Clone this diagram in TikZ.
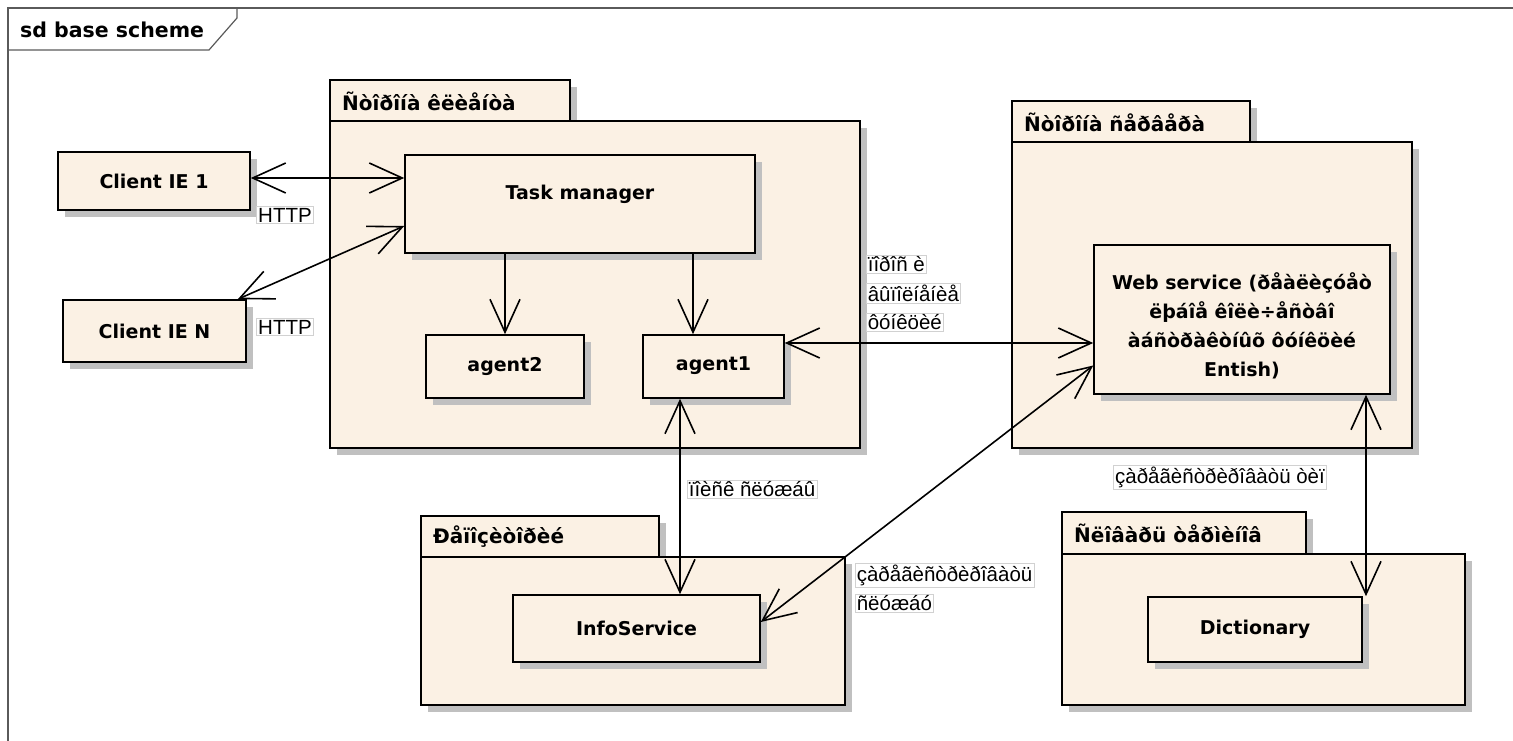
\documentclass[tikz,border=0pt]{standalone}
\usepackage{fontspec}
\setmainfont{Liberation Sans}
\newfontfamily\nodefont{DejaVu Sans}
\usetikzlibrary{arrows.meta,shadows,calc}
\definecolor{pkgfill}{RGB}{251,241,228}
\definecolor{shadowgray}{RGB}{192,192,192}
\definecolor{framegray}{RGB}{90,90,90}
\tikzset{
  ob/.tip={Straight Barb[length=33pt,width=30pt,line width=1.6pt]},
  box/.style={draw=black, line width=1.6pt, fill=pkgfill, inner sep=0pt, align=center,
    font=\nodefont\bfseries\fontsize{19}{29}\selectfont,
    drop shadow={shadow xshift=7pt, shadow yshift=-7pt, fill=shadowgray, opacity=1}},
  pkgpart/.style={draw=black, line width=1.6pt, fill=pkgfill, inner sep=0pt,
    drop shadow={shadow xshift=7pt, shadow yshift=-7pt, fill=shadowgray, opacity=1}},
  pkgtitle/.style={anchor=west, inner sep=0pt, font=\nodefont\bfseries\fontsize{20}{24}\selectfont},
  lbl/.style={draw=black!18, fill=white, line width=0.6pt, inner sep=1.5pt,
    font=\fontsize{20.5}{24}\selectfont},
  conn/.style={draw=black, line width=1.6pt},
}
\begin{document}
\begin{tikzpicture}[x=1pt,y=-1pt]
\useasboundingbox (0,0) rectangle (1513,741);
% diagram frame
\draw[framegray, line width=1.2pt] (8,741) -- (8,8) -- (1513,8);
\draw[framegray, line width=1.2pt] (237,8) -- (237,18) -- (209,50) -- (8,50);
\node[anchor=west, inner sep=0pt, font=\nodefont\bfseries\fontsize{20.5}{24}\selectfont] (frametitle) at (20,30) {sd base scheme};

% packages: tab first, then body
\node[pkgpart, minimum width=240pt, minimum height=41pt] (p1tab) at (450,100.5) {};
\node[pkgpart, minimum width=530pt, minimum height=327pt] (p1) at (595,284.5) {};
\node[pkgtitle] (p1t) at (342,101) {Ñòîðîíà êëèåíòà};

\node[pkgpart, minimum width=238pt, minimum height=41pt] (p2tab) at (1131,121.5) {};
\node[pkgpart, minimum width=400pt, minimum height=306pt] (p2) at (1212,295) {};
\node[pkgtitle] (p2t) at (1024,122) {Ñòîðîíà ñåðâåðà};

\node[pkgpart, minimum width=238pt, minimum height=41pt] (p3tab) at (540,536.5) {};
\node[pkgpart, minimum width=424pt, minimum height=148pt] (p3) at (633,631) {};
\node[pkgtitle] (p3t) at (433,537) {Ðåïîçèòîðèé};

\node[pkgpart, minimum width=244pt, minimum height=42pt] (p4tab) at (1184,533) {};
\node[pkgpart, minimum width=403pt, minimum height=151pt] (p4) at (1263.5,629.5) {};
\node[pkgtitle] (p4t) at (1074,533) {Ñëîâàðü òåðìèíîâ};

% elements
\node[box, minimum width=192pt, minimum height=58pt] (c1) at (154,181) {Client IE 1};
\node[box, minimum width=183pt, minimum height=62pt] (cn) at (154.5,331) {Client IE N};
\node[box, minimum width=350pt, minimum height=98pt, text depth=24pt] (tm) at (580,204) {Task manager};
\node[box, minimum width=158pt, minimum height=63pt] (a2) at (505,366.5) {agent2};
\node[box, minimum width=141pt, minimum height=63pt, text depth=6pt] (a1) at (713.5,366.5) {agent1};
\node[box, minimum width=296pt, minimum height=149pt,
  label={[yshift=-6pt, align=center, inner sep=0pt, font=\nodefont\bfseries\fontsize{19}{29}\selectfont]center:{Web service (ðåàëèçóåò\\ëþáîå êîëè÷åñòâî\\àáñòðàêòíûõ ôóíêöèé\\Entish)}}] (ws) at (1242,319.5) {};
\node[box, minimum width=247pt, minimum height=67pt] (is) at (636.5,628.5) {InfoService};
\node[box, minimum width=214pt, minimum height=65pt] (dc) at (1255,629.5) {Dictionary};

% connectors
\draw[conn, ob-ob] ([yshift=3pt]c1.east) -- ([yshift=3pt]c1.east -| tm.west);
\draw[conn, ob-ob] ([yshift=-22pt]tm.west) -- ([xshift=-9pt]cn.north east);
\draw[conn, -ob] (tm.south -| a2.north) -- (a2.north);
\draw[conn, -ob] ([xshift=-20.5pt]a1.north |- tm.south) -- ([xshift=-20.5pt]a1.north);
\draw[conn, ob-ob] ([yshift=23.5pt]a1.east) -- ([yshift=23.5pt]a1.east -| ws.west);
\draw[conn, ob-ob] ([xshift=-33.5pt]a1.south) -- ([xshift=-33.5pt]a1.south |- is.north);
\draw[conn, ob-ob] ([yshift=6.5pt]is.east) -- ([yshift=-46pt]ws.west);
\draw[conn, ob-ob] ([xshift=124pt]ws.south) -- ([xshift=124pt]ws.south |- dc.north);

% connector labels
\node[lbl] (h1) at (285,215) {HTTP};
\node[lbl] (h2) at (285,327) {HTTP};
\node[lbl, anchor=west] (q1) at (866,264) {ïîðîñ è};
\node[lbl, anchor=west] (q2) at (866,293) {âûïîëíåíèå};
\node[lbl, anchor=west] (q3) at (866,322) {ôóíêöèé};
\node[lbl, anchor=west] (s1) at (687,489) {ïîèñê ñëóæáû};
\node[lbl, anchor=west] (r1) at (855,575) {çàðåãèñòðèðîâàòü};
\node[lbl, anchor=west] (r2) at (855,603) {ñëóæáó};
\node[lbl] (t1) at (1220,477) {çàðåãèñòðèðîâàòü òèï};
\end{tikzpicture}
\end{document}
